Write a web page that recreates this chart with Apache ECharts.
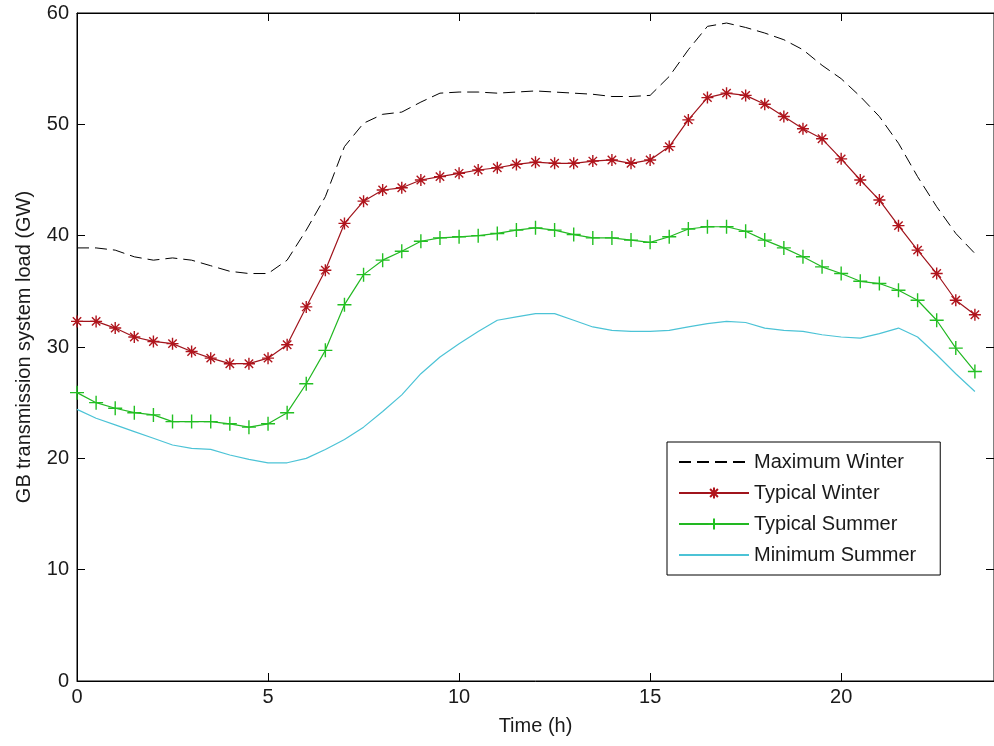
<!DOCTYPE html>
<html>
<head>
<meta charset="utf-8">
<script src="https://cdn.jsdelivr.net/npm/echarts@6/dist/echarts.min.js"></script>
<style>
html,body{margin:0;padding:0;background:#fff;}
#chart{width:994px;height:746px;}
</style>
</head>
<body>
<div id="chart"></div>
<script>
const hours = [0,0.5,1,1.5,2,2.5,3,3.5,4,4.5,5,5.5,6,6.5,7,7.5,8,8.5,9,9.5,10,10.5,11,11.5,
  12,12.5,13,13.5,14,14.5,15,15.5,16,16.5,17,17.5,18,18.5,19,19.5,20,20.5,21,21.5,22,22.5,23,23.5];
const maxWinter = [38.9,38.9,38.7,38.1,37.8,38.0,37.8,37.3,36.8,36.6,36.6,37.8,
  40.5,43.5,48.0,50.1,50.9,51.1,52.0,52.8,52.9,52.9,52.8,52.9,
  53.0,52.9,52.8,52.7,52.5,52.5,52.6,54.3,56.7,58.8,59.1,58.7,
  58.2,57.6,56.7,55.3,54.1,52.5,50.7,48.3,45.3,42.6,40.2,38.4];
const typWinter = [32.3,32.3,31.7,30.9,30.5,30.3,29.6,29.0,28.5,28.5,29.0,30.2,
  33.6,36.9,41.1,43.1,44.1,44.3,45.0,45.3,45.6,45.9,46.1,46.4,
  46.6,46.5,46.5,46.7,46.8,46.5,46.8,48.0,50.4,52.4,52.8,52.6,
  51.8,50.7,49.6,48.7,46.9,45.0,43.2,40.9,38.7,36.6,34.2,32.9];
const typSummer = [25.9,25.0,24.5,24.1,23.9,23.3,23.3,23.3,23.1,22.8,23.1,24.1,
  26.7,29.7,33.8,36.5,37.8,38.6,39.5,39.8,39.9,40.0,40.2,40.5,
  40.7,40.5,40.1,39.8,39.8,39.6,39.4,39.9,40.6,40.8,40.8,40.4,
  39.6,38.9,38.1,37.2,36.6,35.9,35.7,35.1,34.2,32.4,29.9,27.8];
const minSummer = [24.4,23.6,23.0,22.4,21.8,21.2,20.9,20.8,20.3,19.9,19.6,19.6,
  20.0,20.8,21.7,22.8,24.2,25.7,27.6,29.1,30.3,31.4,32.4,32.7,
  33.0,33.0,32.4,31.8,31.5,31.4,31.4,31.5,31.8,32.1,32.3,32.2,
  31.7,31.5,31.4,31.1,30.9,30.8,31.2,31.7,30.9,29.3,27.6,26.0];
const seriesNames = ['Maximum Winter','Typical Winter','Typical Summer','Minimum Summer'];

const pair = arr => hours.map((h,i)=>[h,arr[i]]);
const FONT = '"Liberation Sans", Arial, sans-serif';
const FS = 20;
const TXT = '#1a1a1a';
const starPath = 'path://M0,-1L0,1M-1,0L1,0M-0.7,-0.7L0.7,0.7M-0.7,0.7L0.7,-0.7';
const plusPath = 'path://M0,-1L0,1M-1,0L1,0';

const chart = echarts.init(document.getElementById('chart'), null, {renderer:'canvas'});
const axisCommon = {
  axisLine:{show:true, onZero:false, lineStyle:{color:'#000', width:1}},
  axisTick:{show:true, inside:true, length:8, lineStyle:{color:'#000'}},
  splitLine:{show:false}
};
chart.setOption({
  backgroundColor:'#fff',
  animation:false,
  grid:{left:77, top:13, right:0, bottom:65, show:true, borderColor:'#000', borderWidth:1},
  legend:{
    show:true, orient:'vertical', left:667, top:442,
    padding:[10,24,10,11],
    itemWidth:70, itemHeight:14, itemGap:11,
    borderColor:'#000', borderWidth:1, backgroundColor:'#fff',
    textStyle:{fontFamily:FONT, fontSize:FS, lineHeight:20, color:TXT},
    data:[
      {name:seriesNames[0], itemStyle:{opacity:0}},
      {name:seriesNames[1]},
      {name:seriesNames[2]},
      {name:seriesNames[3], itemStyle:{opacity:0}}
    ]
  },
  xAxis:[{
    type:'value', min:0, max:24, interval:5, position:'bottom',
    name:'Time (h)', nameLocation:'middle', nameGap:35,
    nameTextStyle:{fontFamily:FONT, fontSize:FS, color:TXT},
    axisLabel:{fontFamily:FONT, fontSize:FS, color:TXT, margin:6, showMaxLabel:false},
    ...axisCommon
  },{
    type:'value', min:0, max:24, interval:5, position:'top',
    axisLabel:{show:false}, ...axisCommon
  }],
  yAxis:[{
    type:'value', min:0, max:60, interval:10, position:'left',
    name:'GB transmission system load (GW)', nameLocation:'middle', nameGap:43,
    nameTextStyle:{fontFamily:FONT, fontSize:FS, color:TXT},
    axisLabel:{fontFamily:FONT, fontSize:FS, color:TXT, margin:8},
    ...axisCommon
  },{
    type:'value', min:0, max:60, interval:10, position:'right',
    axisLabel:{show:false}, ...axisCommon
  }],
  series:[
    {name:seriesNames[0], type:'line', data:pair(maxWinter), symbol:'none', showSymbol:false,
     color:'#000', lineStyle:{color:'#000', width:1, type:[12,6]}},
    {name:seriesNames[1], type:'line', data:pair(typWinter), symbol:starPath, symbolSize:12, showSymbol:true,
     color:'#b0141c', lineStyle:{color:'#a0141c', width:1.2},
     itemStyle:{color:'#b0141c', borderColor:'#b0141c', borderWidth:1.4}},
    {name:seriesNames[2], type:'line', data:pair(typSummer), symbol:plusPath, symbolSize:14, showSymbol:true,
     color:'#22c022', lineStyle:{color:'#22b822', width:1.2},
     itemStyle:{color:'#22c022', borderColor:'#22c022', borderWidth:1.4}},
    {name:seriesNames[3], type:'line', data:pair(minSummer), symbol:'none', showSymbol:false,
     color:'#4cc3d6', lineStyle:{color:'#4cc3d6', width:1.2}}
  ]
});
</script>
</body>
</html>
